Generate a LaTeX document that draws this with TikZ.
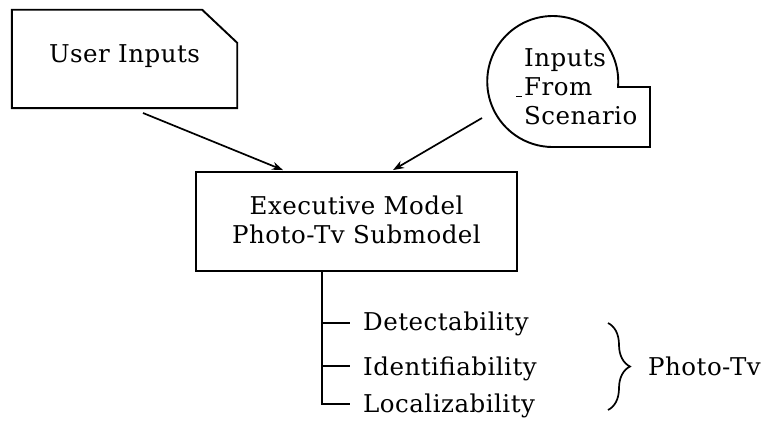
\documentclass[tikz,border=0pt]{standalone}
\usepackage{fontspec}
\setmainfont{DejaVu Serif}[LetterSpace=2]
\usetikzlibrary{arrows.meta,decorations.pathreplacing}
\tikzset{
  txt/.style={font=\fontsize{24.5}{29}\selectfont, inner sep=0pt},
  frame/.style={inner sep=0pt, draw=none},
  outline/.style={line width=1.9pt, line join=miter},
  link/.style={line width=1.7pt, -{Stealth[length=11pt,width=8pt]}},
  tree/.style={line width=1.8pt},
}
\begin{document}
\begin{tikzpicture}[x=1pt,y=-1pt]
\useasboundingbox (0,0) rectangle (773,425);

% User inputs: box with a clipped top-right corner
\node[frame, minimum width=225pt, minimum height=98pt] (user) at (124.5,59) {};
\node[txt] (usertext) at (124.5,56) {User Inputs};
\draw[outline] (user.south west) -- (user.north west)
  -- ([xshift=-35pt]user.north east) -- ([yshift=-33pt]user.north east)
  -- (user.south east) -- cycle;

% Scenario inputs: disc with a square corner at the lower right
\coordinate (scen) at (552.5,81.5);
\draw[outline] (618,87) arc[start angle=-4.8, end angle=270, radius=65.5pt]
  -- (650,147) -- (650,87) -- cycle;
\node[txt, align=left, anchor=north west] (scentext) at (524,48)
  {Inputs\\\llap{\rule[-2pt]{6pt}{1.3pt}\hspace{2pt}}From\\Scenario};

% Executive model
\node[frame, draw, outline, minimum width=321pt, minimum height=99pt] (exec) at (356.5,221.5) {};
\node[txt, align=center] (exectext) at (356.5,220) {Executive Model\\Photo-Tv Submodel};

% Inputs feeding the executive model
\coordinate (userout) at (143,113);
\coordinate (scenout) at (482,118);
\draw[link] (userout) -- ([xshift=-73.5pt,yshift=1pt]exec.north);
\draw[link] (scenout) -- ([xshift=36.5pt,yshift=1pt]exec.north);

% Output measures
\coordinate (trunk) at ([xshift=-34.5pt]exec.south);
\coordinate (t1) at (322,323);
\coordinate (t2) at (322,366);
\coordinate (t3) at (322,404);
\draw[tree] (trunk) -- (t3) -- ++(28,0);
\draw[tree] (t1) -- ++(28,0);
\draw[tree] (t2) -- ++(28,0);
\node[txt, anchor=base west] (det) at (363,330) {Detectability};
\node[txt, anchor=base west] (ide) at (363,375) {Identifiability};
\node[txt, anchor=base west] (loc) at (363,412) {Localizability};

% Grouping brace
\coordinate (bt) at (608,323);
\coordinate (bb) at (608,410);
\draw[line width=1.7pt, decorate, decoration={brace, amplitude=22pt}] (bt) -- (bb);
\node[txt, anchor=base west] (group) at (648,375) {Photo-Tv};
\end{tikzpicture}
\end{document}
